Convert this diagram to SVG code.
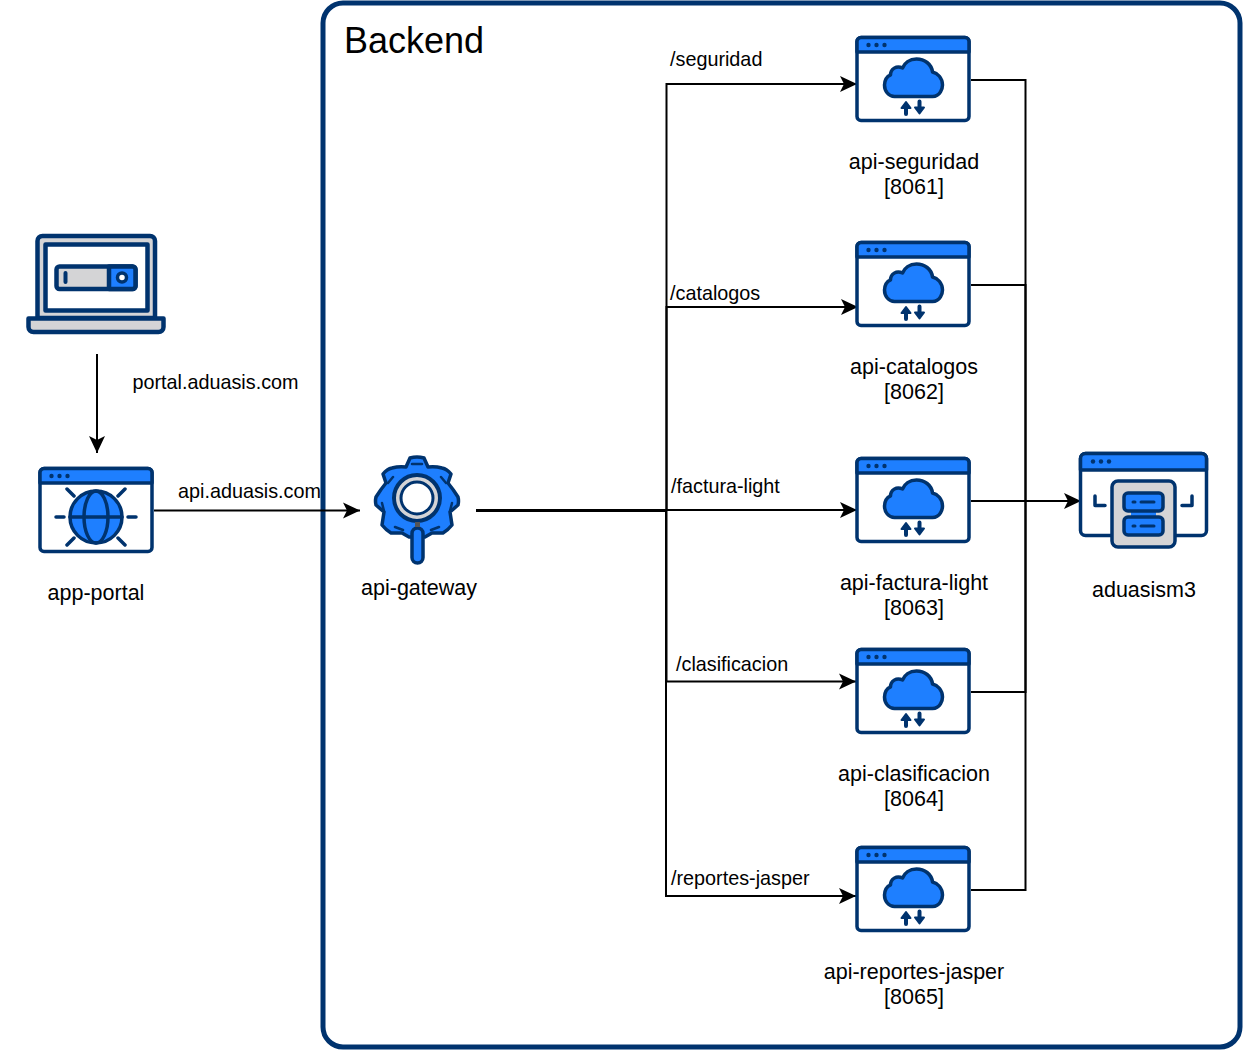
<svg xmlns="http://www.w3.org/2000/svg" width="1251" height="1053" viewBox="0 0 1251 1053">
<style>
text{font-family:"Liberation Sans",Arial,sans-serif;fill:#000;font-size:19.800px}
.m{text-anchor:middle;font-size:21.500px}
.d{stroke:#00336e;stroke-width:3.500;stroke-linejoin:round;stroke-linecap:round}
.l{stroke-width:4.500}
.b{fill:#1e7fff}.w{fill:#fff}.g{fill:#d4d4d6}.n{fill:none}
.dot{fill:#00336e}
.c{fill:none;stroke:#000;stroke-width:2}
</style>
<defs>
<marker id="a" markerUnits="userSpaceOnUse" markerWidth="18" markerHeight="18" refX="17" refY="9" orient="auto"><path d="M0 1 L17 9 L0 17 L4 9Z" fill="#000"/></marker>
<g id="win">
<rect class="d w" x="1.500" y="1.500" width="112" height="83" rx="4"/>
<path class="d b" d="M1.500 16 V5.500 a4 4 0 0 1 4-4 H109.500 a4 4 0 0 1 4 4 V16Z"/>
<circle class="dot" cx="13" cy="9" r="2.200"/><circle class="dot" cx="21" cy="9" r="2.200"/><circle class="dot" cx="29" cy="9" r="2.200"/>
</g>
<g id="api">
<use href="#win"/>
<path class="d b" d="M39 60.500 H77 C85 60.500 87 52 87 49 C87 42 82 37 77 36 C76 28 69 23 61 23 C54 23 49 27 47 32 C41 29 35 33 35 39 C31 40 29 45 29 49 C29 55 33 60.500 39 60.500Z"/>
<path d="M50.500 78 V70 M64 65.500 V73" fill="none" stroke="#00336e" stroke-width="4" stroke-linecap="round"/>
<path d="M46 72 L50.500 66 L55 72Z M59.500 71.500 L64 77.500 L68.500 71.500Z" fill="#00336e" stroke="#00336e" stroke-width="2" stroke-linejoin="round"/>
</g>
</defs>

<g id="backend">
<rect x="323" y="3" width="917" height="1044" rx="20" fill="#fff" stroke="#00336e" stroke-width="5"/>
<text x="344" y="53" style="font-size:36px">Backend</text>
</g>

<g id="connectors">
<path class="c" d="M97 354 V453" marker-end="url(#a)"/>
<path class="c" d="M154 510.500 H360" marker-end="url(#a)"/>
<path d="M476 510.500 H666" fill="none" stroke="#000" stroke-width="3"/>
<path class="c" d="M666.500 510 V84 H857" marker-end="url(#a)"/>
<path class="c" d="M666.500 510 V307 H858" marker-end="url(#a)"/>
<path class="c" d="M666 510 H857" marker-end="url(#a)"/>
<path class="c" d="M666.500 510 V681.500 H856" marker-end="url(#a)"/>
<path class="c" d="M666 510 V896 H856" marker-end="url(#a)"/>
<path class="c" d="M971 80 H1025.500 V501"/>
<path class="c" d="M971 285 H1025.500 V501"/>
<path class="c" d="M971 501 H1081" marker-end="url(#a)"/>
<path class="c" d="M971 692 H1025.500 V501"/>
<path class="c" d="M971 890 H1025.500 V501"/>
<text x="132.500" y="389">portal.aduasis.com</text>
<text x="178" y="498">api.aduasis.com</text>
<text x="670" y="66">/seguridad</text>
<text x="670" y="300">/catalogos</text>
<text x="671" y="493">/factura-light</text>
<text x="676" y="671">/clasificacion</text>
<text x="671" y="885">/reportes-jasper</text>
</g>

<g id="laptop">
<path class="d g l" d="M37.500 318 V241 a5 5 0 0 1 5-5 H150 a5 5 0 0 1 5 5 V318Z"/>
<rect class="d w l" x="45.500" y="244.500" width="102" height="66"/>
<rect class="d g l" x="56.500" y="266.500" width="79" height="22.500" rx="3"/>
<path class="d b l" d="M109 266.500 H132.500 a3 3 0 0 1 3 3 V286 a3 3 0 0 1-3 3 H109Z"/>
<path d="M65.500 273 V282" stroke="#00336e" stroke-width="4" stroke-linecap="round"/>
<circle cx="122" cy="277.500" r="4.500" fill="#fff" stroke="#00336e" stroke-width="3.500"/>
<path class="d g l" d="M28.500 318.500 H163.500 V327 a5 5 0 0 1-5 5 H33.500 a5 5 0 0 1-5-5Z"/>
</g>

<g id="app-portal">
<g transform="translate(38.500,467)"><use href="#win"/></g>
<circle class="d b" cx="96" cy="517" r="26"/>
<ellipse class="d n" cx="96" cy="517" rx="12" ry="26"/>
<path class="d n" d="M70 517 H122"/>
<path d="M67 489 L74 496 M125 489 L118 496 M56 517 H64 M128 517 H136 M67 545 L74 538 M125 545 L118 538" fill="none" stroke="#00336e" stroke-width="3.500" stroke-linecap="round"/>
<text class="m" x="96" y="600">app-portal</text>
</g>

<g id="api-gateway">
<path class="d b" d="M410 458 Q417 456 424 458 L428 467 Q435 466 442 468 Q447 469 451 474 L448 483 Q453 489 458 497 Q459 501 458 505 L450 512 L452 525 Q448 530 443 533 H432 L425 537 H409 L402 533 H391 Q386 530 382 525 L384 512 L376 505 Q375 501 376 497 Q381 489 386 483 L383 474 Q387 469 392 468 Q399 466 406 467Z"/>
<path d="M412 464 H422 M393 477 L388 483 M441 477 L446 483 M382 503 L384 511 M452 503 L450 511 M395 527 L403 530 M439 527 L431 530" fill="none" stroke="#00336e" stroke-width="2.500" stroke-linecap="round"/>
<circle cx="417" cy="498" r="23" fill="#d4d4d6" stroke="#00336e" stroke-width="4"/>
<circle cx="417" cy="498" r="16" fill="#fff" stroke="#00336e" stroke-width="3"/>
<rect class="d b" x="412" y="528" width="11" height="35" rx="5.500"/>
<rect x="415" y="522" width="5" height="5" fill="#555"/>
<text class="m" x="419" y="595">api-gateway</text>
</g>

<g id="api-seguridad">
<g transform="translate(855.500,36)"><use href="#api"/></g>
<text class="m" x="914" y="169">api-seguridad</text><text class="m" x="914" y="194">[8061]</text>
</g>
<g id="api-catalogos">
<g transform="translate(855.500,241)"><use href="#api"/></g>
<text class="m" x="914" y="374">api-catalogos</text><text class="m" x="914" y="399">[8062]</text>
</g>
<g id="api-factura-light">
<g transform="translate(855.500,457)"><use href="#api"/></g>
<text class="m" x="914" y="590">api-factura-light</text><text class="m" x="914" y="615">[8063]</text>
</g>
<g id="api-clasificacion">
<g transform="translate(855.500,648)"><use href="#api"/></g>
<text class="m" x="914" y="781">api-clasificacion</text><text class="m" x="914" y="806">[8064]</text>
</g>
<g id="api-reportes-jasper">
<g transform="translate(855.500,846)"><use href="#api"/></g>
<text class="m" x="914" y="979">api-reportes-jasper</text><text class="m" x="914" y="1004">[8065]</text>
</g>

<g id="aduasism3">
<rect class="d w" x="1080.500" y="453.500" width="126" height="82" rx="5"/>
<path class="d b" d="M1080.500 470 V458.500 a5 5 0 0 1 5-5 H1201.500 a5 5 0 0 1 5 5 V470Z"/>
<circle class="dot" cx="1093" cy="461.500" r="2.200"/><circle class="dot" cx="1101" cy="461.500" r="2.200"/><circle class="dot" cx="1109" cy="461.500" r="2.200"/>
<path d="M1095 496 V505.500 H1105 M1192 496 V505.500 H1182" fill="none" stroke="#00336e" stroke-width="3.500" stroke-linecap="round" stroke-linejoin="round"/>
<rect class="d g" x="1112" y="481" width="63" height="66" rx="6" stroke-width="4"/>
<rect x="1131" y="509" width="25" height="10" fill="#1e7fff"/>
<rect class="d b" x="1124" y="493" width="39" height="18" rx="4"/>
<rect class="d b" x="1124" y="517" width="39" height="18" rx="4"/>
<path d="M1133 502 H1135 M1141 502 H1154 M1133 526 H1135 M1141 526 H1154" stroke="#00336e" stroke-width="3" stroke-linecap="round"/>
<text class="m" x="1144" y="597">aduasism3</text>
</g>
</svg>
